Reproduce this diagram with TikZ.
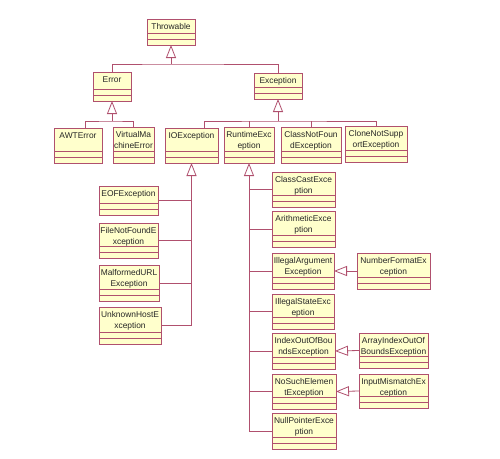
\documentclass[tikz,border=0pt]{standalone}
\usepackage{fontspec}
\setmainfont{Liberation Sans}
\usetikzlibrary{arrows.meta}
\definecolor{linec}{RGB}{176,80,110}
\definecolor{fillc}{RGB}{255,255,204}
\tikzset{
  clsbox/.style={draw=linec, fill=fillc, line width=0.8pt, rectangle, inner sep=0pt, outer sep=0pt},
  clstext/.style={anchor=north, align=center, inner sep=1.5pt, text=black!85, font=\fontsize{8.4}{10.5}\selectfont},
  clsline/.style={draw=linec, line width=0.8pt},
  conn/.style={draw=linec, line width=0.8pt},
  genarrow/.style={draw=linec, line width=0.8pt, -{Triangle[open,length=13pt,width=10pt]}}
}
\newcommand\umlclass[6]{%
  \pgfmathsetmacro\clsw{#4-#2}%
  \pgfmathsetmacro\clsh{#5-#3}%
  \pgfmathsetmacro\clsx{(#2+#4)/2}%
  \pgfmathsetmacro\clsy{(#3+#5)/2}%
  \node[clsbox, minimum width=\clsw pt, minimum height=\clsh pt] (#1) at (\clsx,\clsy) {};
  \node[clstext] at ([yshift=-3pt]#1.north) {#6};
  \draw[clsline] ([yshift=12pt]#1.south west) -- ([yshift=12pt]#1.south east)
                 ([yshift=6pt]#1.south west) -- ([yshift=6pt]#1.south east);
}
\begin{document}
\begin{tikzpicture}[x=1pt,y=-1pt]
\useasboundingbox[fill=white] (0,0) rectangle (500,458);

\umlclass{throwable}{147}{19}{195}{45}{Throwable}
\umlclass{error}{93}{72}{131}{101}{Error}
\umlclass{exception}{254}{73}{302}{99}{Exception}
\umlclass{awt}{54}{128}{102}{163}{AWTError}
\umlclass{vme}{113}{127}{154}{163}{VirtualMa\\chineError}
\umlclass{io}{165}{128}{218}{163}{IOException}
\umlclass{runtime}{224}{127}{274}{163}{RuntimeExc\\eption}
\umlclass{cnf}{281}{127}{341}{163}{ClassNotFoun\\dException}
\umlclass{clone}{345}{126}{407}{162}{CloneNotSupp\\ortException}
\umlclass{eof}{99}{186}{158}{215}{EOFException}
\umlclass{fnf}{99}{223}{158}{258}{FileNotFoundE\\xception}
\umlclass{mal}{99}{265}{159}{301}{MalformedURL\\Exception}
\umlclass{unk}{99}{307}{161}{344}{UnknownHostE\\xception}
\umlclass{cce}{272}{172}{335}{207}{ClassCastExce\\ption}
\umlclass{ari}{272}{211}{335}{247}{ArithmeticExce\\ption}
\umlclass{iae}{272}{253}{334}{289}{IllegalArgument\\Exception}
\umlclass{nfe}{357}{253}{430}{289}{NumberFormatEx\\ception}
\umlclass{ise}{272}{294}{334}{329}{IllegalStateExc\\eption}
\umlclass{ioob}{272}{333}{335}{369}{IndexOutOfBou\\ndsException}
\umlclass{aioob}{359}{333}{428}{368}{ArrayIndexOutOf\\BoundsException}
\umlclass{nse}{272}{374}{336}{409}{NoSuchElemen\\tException}
\umlclass{ime}{359}{374}{428}{408}{InputMismatchEx\\ception}
\umlclass{npe}{272}{413}{336}{449}{NullPointerExce\\ption}

% Throwable generalization
\coordinate (tbus) at (171,64);
\draw[genarrow] (tbus) -- (throwable.south);
\draw[conn] (error.north) |- (tbus) -| (exception.north);

% Error generalization
\coordinate (ebus) at (112,121);
\draw[genarrow] (ebus) -- (error.south);
\draw[conn] ([xshift=7pt]awt.north) |- (ebus) -| (vme.north);

% Exception generalization
\coordinate (xbus) at (278,121);
\draw[genarrow] (xbus) -- (exception.south);
\draw[conn] ([xshift=12.5pt]io.north) |- (xbus) -| (clone.north);
\draw[conn] (runtime.north) -- (runtime.north |- xbus);
\draw[conn] (cnf.north) -- (cnf.north |- xbus);

% IOException generalization
\draw[genarrow] (unk.east -| io.south) -- (io.south);
\draw[conn] (eof.east) -- (eof.east -| io.south);
\draw[conn] (fnf.east) -- (fnf.east -| io.south);
\draw[conn] (mal.east) -- (mal.east -| io.south);
\draw[conn] (unk.east) -- (unk.east -| io.south);

% RuntimeException generalization
\draw[genarrow] (npe.west -| runtime.south) -- (runtime.south);
\draw[conn] (cce.west) -- (cce.west -| runtime.south);
\draw[conn] (ari.west) -- (ari.west -| runtime.south);
\draw[conn] (iae.west) -- (iae.west -| runtime.south);
\draw[conn] (ise.west) -- (ise.west -| runtime.south);
\draw[conn] (ioob.west) -- (ioob.west -| runtime.south);
\draw[conn] (nse.west) -- (nse.west -| runtime.south);
\draw[conn] (npe.west) -- (npe.west -| runtime.south);

% side generalizations
\draw[genarrow] (nfe.west) -- (iae.east);
\draw[genarrow] (aioob.west) -- (ioob.east);
\draw[genarrow] (ime.west) -- (nse.east);
\end{tikzpicture}
\end{document}
